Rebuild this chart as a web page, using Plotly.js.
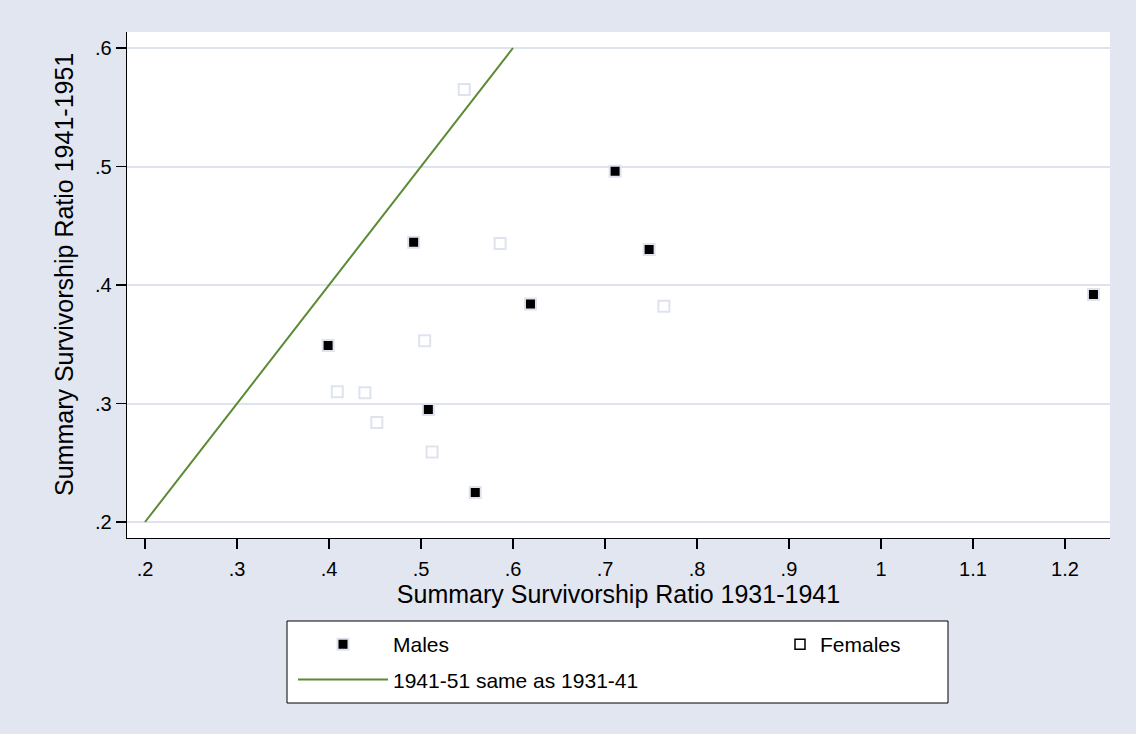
<!DOCTYPE html>
<html>
<head>
<meta charset="utf-8">
<script src="https://cdn.plot.ly/plotly-3.0.1.min.js"></script>
<style>
  html, body { margin: 0; padding: 0; background: #e2e6f0; }
  #chart { width: 1136px; height: 734px; }
</style>
</head>
<body>
<div id="chart"></div>
<script>
// Data
const malesX   = [0.399, 0.492, 0.508, 0.559, 0.619, 0.711, 0.748, 1.231];
const malesY   = [0.349, 0.436, 0.295, 0.225, 0.384, 0.496, 0.430, 0.392];
const femalesX = [0.547, 0.586, 0.504, 0.409, 0.439, 0.452, 0.512, 0.764];
const femalesY = [0.565, 0.435, 0.353, 0.310, 0.309, 0.284, 0.259, 0.382];
const sameLineX = [0.2, 0.6];
const sameLineY = [0.2, 0.6];
const xTickVals = [0.2, 0.3, 0.4, 0.5, 0.6, 0.7, 0.8, 0.9, 1.0, 1.1, 1.2];
const xTickText = ['.2', '.3', '.4', '.5', '.6', '.7', '.8', '.9', '1', '1.1', '1.2'];
const yTickVals = [0.2, 0.3, 0.4, 0.5, 0.6];
const yTickText = ['.2', '.3', '.4', '.5', '.6'];
const xTitle = 'Summary Survivorship Ratio 1931-1941';
const yTitle = 'Summary Survivorship Ratio 1941-1951';

const FONT = 'Liberation Sans, Arial, Helvetica, sans-serif';
const BG = '#e2e6f0';
const GRID = '#dfe3ee';

const traces = [
  {
    type: 'scatter', mode: 'markers', name: 'Males',
    x: malesX, y: malesY,
    marker: { symbol: 'square', size: 11, color: '#000000', line: { color: GRID, width: 2 } },
    legend: 'legend', legendgroup: 'm'
  },
  {
    type: 'scatter', mode: 'markers', name: 'Females',
    x: femalesX, y: femalesY,
    marker: { symbol: 'square', size: 11, color: '#ffffff', line: { color: GRID, width: 2 } },
    showlegend: false
  },
  {
    type: 'scatter', mode: 'lines', name: '1941-51 same as 1931-41',
    x: sameLineX, y: sameLineY,
    line: { color: '#5a8a32', width: 2 },
    legend: 'legend', legendgroup: 'l'
  },
  {
    // legend key for Females (black outline as in the reference's legend)
    type: 'scatter', mode: 'markers', name: 'Females',
    x: [null], y: [null],
    marker: { symbol: 'square', size: 10, color: '#ffffff', line: { color: '#000000', width: 1.5 } },
    legend: 'legend2', legendgroup: 'f', hoverinfo: 'skip'
  }
];

const layout = {
  width: 1136, height: 734,
  paper_bgcolor: BG,
  plot_bgcolor: '#ffffff',
  margin: { l: 127, r: 26, t: 32, b: 196, autoexpand: false },
  font: { family: FONT, size: 20, color: '#000000' },
  showlegend: true,
  xaxis: {
    range: [0.1804, 1.249],
    tickmode: 'array', tickvals: xTickVals, ticktext: xTickText,
    ticks: 'outside', ticklen: 10, tickwidth: 1.3, tickcolor: '#000',
    ticklabelstandoff: 3,
    showgrid: false, zeroline: false,
    showline: true, linecolor: '#000', linewidth: 1.3,
    tickfont: { family: FONT, size: 20 },
    title: { text: xTitle, font: { family: FONT, size: 25 }, standoff: 0 },
    automargin: false
  },
  yaxis: {
    range: [0.1865, 0.6135],
    tickmode: 'array', tickvals: yTickVals, ticktext: yTickText,
    ticks: 'outside', ticklen: 10, tickwidth: 1.3, tickcolor: '#000',
    showgrid: true, gridcolor: GRID, gridwidth: 2,
    zeroline: false,
    showline: true, linecolor: '#000', linewidth: 1.3,
    tickfont: { family: FONT, size: 20 },
    automargin: false
  },
  annotations: [
    {
      text: yTitle, xref: 'paper', yref: 'paper',
      x: (64 - 127) / 983, y: (538 - 275) / 506,
      xanchor: 'center', yanchor: 'middle', textangle: -90, showarrow: false,
      font: { family: FONT, size: 25, color: '#000' }
    }
  ],
  legend: {
    xref: 'container', yref: 'container',
    x: 293 / 1136, y: 1 - 624 / 734, xanchor: 'left', yanchor: 'top',
    orientation: 'v', traceorder: 'grouped', tracegroupgap: 5,
    itemwidth: 90, bgcolor: 'rgba(0,0,0,0)', borderwidth: 0,
    font: { family: FONT, size: 21, color: '#000' }
  },
  legend2: {
    xref: 'container', yref: 'container',
    x: 780 / 1136, y: 1 - 624 / 734, xanchor: 'left', yanchor: 'top',
    orientation: 'v', itemwidth: 30, bgcolor: 'rgba(0,0,0,0)', borderwidth: 0,
    font: { family: FONT, size: 21, color: '#000' }
  },
  shapes: [
    {
      type: 'rect', xref: 'paper', yref: 'paper', layer: 'above',
      x0: (287 - 127) / 983, x1: (948 - 127) / 983,
      y0: (538 - 621) / 506, y1: (538 - 703) / 506,
      fillcolor: '#ffffff', line: { color: '#000000', width: 1 }
    }
  ]
};

Plotly.newPlot('chart', traces, layout, { displayModeBar: false, staticPlot: true });
</script>
</body>
</html>
